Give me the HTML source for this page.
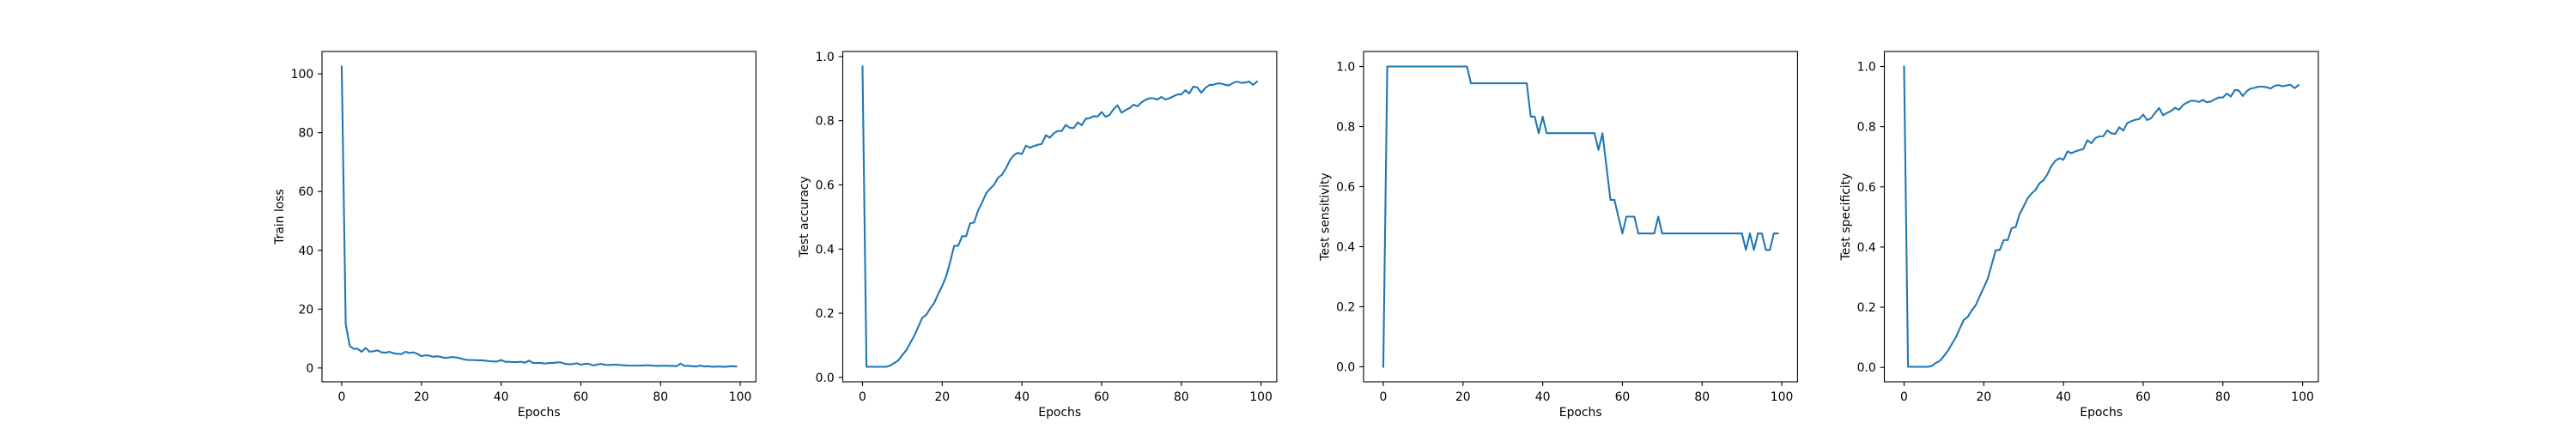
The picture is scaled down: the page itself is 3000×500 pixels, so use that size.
<!DOCTYPE html>
<html><head><meta charset="utf-8"><style>
html,body{margin:0;padding:0;background:#fff;}
svg{display:block;}
text{font-family:"DejaVu Sans","Liberation Sans",sans-serif;font-size:13.9px;fill:#000;}
</style></head><body>
<svg id="fig" width="3000" height="500" viewBox="0 0 3000 500" xmlns="http://www.w3.org/2000/svg"></svg>
<script>
const epochs = Array.from({length:100},(_,i)=>i);
const xTicks = [0,20,40,60,80,100];
const trainLoss = [102.5,15,7.5,6.5,6.5,5.5,6.8,5.5,5.7,6,5.3,5.2,5.5,5,4.8,4.7,5.5,5.1,5.3,4.8,4,4.3,4.2,3.8,4,3.7,3.4,3.6,3.7,3.5,3.2,2.8,2.7,2.7,2.6,2.6,2.5,2.3,2.2,2.2,2.7,2.1,2.1,2,2,2.1,1.8,2.5,1.7,1.7,1.7,1.5,1.7,1.7,1.9,1.9,1.4,1.3,1.3,1.6,1.1,1.4,1.4,0.9,1.1,1.4,1.1,1,1.1,1.1,1,0.9,0.8,0.8,0.8,0.8,0.9,0.9,0.8,0.7,0.7,0.8,0.7,0.7,0.6,1.5,0.7,0.7,0.6,0.5,0.8,0.5,0.6,0.4,0.5,0.5,0.4,0.5,0.6,0.5];
const testAccuracy = [0.969,0.033,0.033,0.033,0.033,0.033,0.033,0.037,0.045,0.053,0.07,0.085,0.108,0.13,0.158,0.186,0.195,0.215,0.232,0.26,0.285,0.315,0.36,0.41,0.41,0.44,0.44,0.48,0.483,0.52,0.545,0.573,0.588,0.6,0.622,0.632,0.652,0.677,0.693,0.7,0.696,0.722,0.716,0.721,0.725,0.728,0.755,0.747,0.761,0.768,0.768,0.787,0.778,0.777,0.795,0.786,0.806,0.808,0.814,0.813,0.827,0.812,0.818,0.836,0.848,0.825,0.833,0.839,0.85,0.845,0.857,0.865,0.87,0.87,0.866,0.874,0.866,0.87,0.876,0.882,0.882,0.895,0.885,0.906,0.904,0.887,0.902,0.911,0.912,0.916,0.916,0.912,0.91,0.918,0.922,0.918,0.919,0.922,0.912,0.922];
const testSensitivity = [0,1,1,1,1,1,1,1,1,1,1,1,1,1,1,1,1,1,1,1,1,1,0.944,0.944,0.944,0.944,0.944,0.944,0.944,0.944,0.944,0.944,0.944,0.944,0.944,0.944,0.944,0.833,0.833,0.778,0.833,0.778,0.778,0.778,0.778,0.778,0.778,0.778,0.778,0.778,0.778,0.778,0.778,0.778,0.722,0.778,0.667,0.556,0.556,0.5,0.444,0.5,0.5,0.5,0.444,0.444,0.444,0.444,0.444,0.5,0.444,0.444,0.444,0.444,0.444,0.444,0.444,0.444,0.444,0.444,0.444,0.444,0.444,0.444,0.444,0.444,0.444,0.444,0.444,0.444,0.444,0.389,0.444,0.389,0.444,0.444,0.389,0.389,0.444,0.444];
const testSpecificity = [1,0.002,0.002,0.002,0.002,0.002,0.002,0.005,0.015,0.022,0.038,0.055,0.078,0.1,0.13,0.158,0.168,0.19,0.207,0.237,0.265,0.295,0.342,0.39,0.39,0.423,0.423,0.463,0.466,0.51,0.535,0.562,0.578,0.59,0.612,0.622,0.643,0.67,0.687,0.695,0.69,0.718,0.712,0.718,0.722,0.726,0.755,0.745,0.762,0.768,0.768,0.788,0.778,0.776,0.798,0.787,0.812,0.818,0.823,0.825,0.84,0.822,0.828,0.846,0.862,0.838,0.846,0.852,0.863,0.856,0.872,0.88,0.886,0.886,0.882,0.889,0.881,0.884,0.891,0.897,0.897,0.91,0.9,0.922,0.92,0.902,0.918,0.927,0.929,0.933,0.933,0.931,0.927,0.936,0.938,0.934,0.937,0.939,0.928,0.938];
const lossTicks = [0,20,40,60,80,100];
const lossTickLabels = ["0","20","40","60","80","100"];
const fracTicks = [0,0.2,0.4,0.6,0.8,1.0];
const fracTickLabels = ["0.0","0.2","0.4","0.6","0.8","1.0"];

const NS="http://www.w3.org/2000/svg";
const svg=document.getElementById('fig');
function mk(tag,attrs,parent){const e=document.createElementNS(NS,tag);for(const k in attrs)e.setAttribute(k,attrs[k]);(parent||svg).appendChild(e);return e;}

const panels=[
 {key:'train-loss',label:'Train loss',data:trainLoss,ticks:lossTicks,labels:lossTickLabels},
 {key:'test-accuracy',label:'Test accuracy',data:testAccuracy,ticks:fracTicks,labels:fracTickLabels},
 {key:'test-sensitivity',label:'Test sensitivity',data:testSensitivity,ticks:fracTicks,labels:fracTickLabels},
 {key:'test-specificity',label:'Test specificity',data:testSpecificity,ticks:fracTicks,labels:fracTickLabels}
];
const W=505.4, GAP=101.1, TOP=60, BOT=445;
panels.forEach((p,i)=>{
  const L=375+i*(W+GAP), R=L+W;
  const g=mk('g',{});
  
  
  const xmin=Math.min(...epochs), xmax=Math.max(...epochs), xr=xmax-xmin;
  const x0=xmin-0.05*xr, x1=xmax+0.05*xr;
  const ymin=Math.min(...p.data), ymax=Math.max(...p.data), yr=ymax-ymin;
  const y0=ymin-0.05*yr, y1=ymax+0.05*yr;
  const sx=v=>L+(v-x0)/(x1-x0)*(R-L);
  const sy=v=>BOT-(v-y0)/(y1-y0)*(BOT-TOP);
  // line
  const d=p.data.map((v,j)=>(j?'L':'M')+sx(epochs[j]).toFixed(2)+','+sy(v).toFixed(2)).join('');
  const path=mk('path',{d:d,fill:'none',stroke:'#1f77b4','stroke-width':2.08,'stroke-linejoin':'round','stroke-linecap':'square'},g);
  
  
  // frame
  const fr=mk('rect',{x:L,y:TOP,width:W,height:BOT-TOP,fill:'none',stroke:'#000','stroke-width':1.1},g);
  
  
  // x ticks
  xTicks.forEach(t=>{
    const x=sx(t);
    mk('line',{x1:x,x2:x,y1:BOT,y2:BOT+4.9,stroke:'#000','stroke-width':1.1},g);
    const tx=mk('text',{x:x,y:BOT+22,'text-anchor':'middle'},g);
    tx.textContent=String(t);
    
    
  });
  // y ticks
  let maxw=0;
  p.ticks.forEach((t,k)=>{
    const y=sy(t);
    mk('line',{x1:L-4.9,x2:L,y1:y,y2:y,stroke:'#000','stroke-width':1.1},g);
    const tx=mk('text',{x:L-9.8,y:y+5,'text-anchor':'end'},g);
    tx.textContent=p.labels[k];
    
    
    maxw=Math.max(maxw,p.labels[k].length===3&&p.labels[k].includes('.')?22:p.labels[k].length*8.85);
  });
  const xl=mk('text',{x:(L+R)/2,y:485,'text-anchor':'middle'},g);
  xl.textContent='Epochs';
  
  
  const yx=L-9.8-maxw-5.6-3;
  const yl=mk('text',{x:yx,y:(TOP+BOT)/2,'text-anchor':'middle',transform:`rotate(-90 ${yx} ${(TOP+BOT)/2})`},g);
  yl.textContent=p.label;
  
  
});
</script>
</body></html>
